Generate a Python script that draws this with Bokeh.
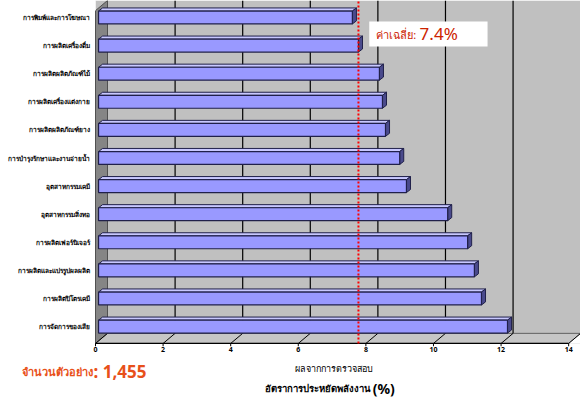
from bokeh.plotting import figure
from bokeh.models import Range1d
from bokeh.embed import file_html
from bokeh.resources import INLINE
from bokeh.core.properties import value

# ---- data ----
categories = [
    "การพิมพ์และการโฆษณา",
    "การผลิตเครื่องดื่ม",
    "การผลิตผลิตภัณฑ์ไม้",
    "การผลิตเครื่องแต่งกาย",
    "การผลิตผลิตภัณฑ์ยาง",
    "การบำรุงรักษาและงานจ่ายน้ำ",
    "อุตสาหกรรมเคมี",
    "อุตสาหกรรมสิ่งทอ",
    "การผลิตเฟอร์นิเจอร์",
    "การผลิตและแปรรูปผลผลิต",
    "การผลิตปิโตรเคมี",
    "การจัดการของเสีย",
]
rates = [7.51, 7.69, 8.31, 8.40, 8.49, 8.91, 9.11, 10.33, 10.92, 11.12, 11.33, 12.1]
average_text = "7.4%"
average_line = 7.78
sample_count = "1,455"
x_ticks = [0, 2, 4, 6, 8, 10, 12, 14]
x_tick_labels = ["0", "2", "4", "6", "8", "10", "12", "14"]
x_label = "ผลจากการตรวจสอบ"
x_title = "อัตราการประหยัดพลังงาน "

FONT = "Noto Sans"
n = len(categories)
ypos = [n - 1 - i for i in range(n)]

XMIN, XMAX = -2.811, 14.35
YMIN, YMAX = -2.594, 11.605

p = figure(width=580, height=399, output_backend="svg", toolbar_location=None,
           x_range=Range1d(XMIN, XMAX), y_range=Range1d(YMIN, YMAX),
           min_border=0)
p.outline_line_color = None
p.background_fill_color = "white"
p.border_fill_color = "white"
p.grid.visible = False
p.axis.visible = False

D = 0.355   # depth in x units
DY = 0.36   # depth in y units
FLOOR = -0.6

# back wall
p.patch([0, XMAX, XMAX, 0], [FLOOR, FLOOR, YMAX, YMAX], fill_color="#c0c0c0",
        line_color=None)
# side wall
p.patch([0, D, D, 0], [FLOOR, FLOOR + DY, YMAX, YMAX - DY], fill_color="#858585",
        line_color="#505050", line_width=1)
p.patch([0, XMIN, XMIN, 0], [YMAX - DY, YMAX - DY, YMAX, YMAX], fill_color="white",
        line_color=None)
# floor
p.patch([0, 14, 14 + D, D], [FLOOR, FLOOR, FLOOR + DY, FLOOR + DY],
        fill_color="#c6c6c6", line_color="#606060", line_width=1)
p.patch([14, XMAX, XMAX], [FLOOR, FLOOR, FLOOR + DY * (XMAX - 14) / D],
        fill_color="white", line_color=None)
p.segment(0, FLOOR, 14, FLOOR, line_color="black", line_width=1.2)
# back-wall grid lines, floor diagonals and ticks
p.segment(x0=[t + D for t in x_ticks[1:]], y0=FLOOR + DY,
          x1=[t + D for t in x_ticks[1:]], y1=YMAX, line_color="black", line_width=1.2)
p.segment(x0=x_ticks, y0=FLOOR, x1=[t + D for t in x_ticks], y1=FLOOR + DY,
          line_color="black", line_width=1)
p.segment(x0=x_ticks, y0=FLOOR, x1=x_ticks, y1=FLOOR - 0.1, line_color="black",
          line_width=1)

# bars (3D)
H = 0.46
OFF = 0.09
dx, dy = 0.12, 0.11
for v, y in zip(rates, ypos):
    top = y + H / 2
    bot = y - H / 2
    p.patch([OFF, OFF + dx, v + OFF + dx, v + OFF], [top, top + dy, top + dy, top],
            fill_color="#c8c8ff", line_color="#20204a", line_width=1)
    p.patch([v + OFF, v + OFF + dx, v + OFF + dx, v + OFF],
            [bot, bot + dy, top + dy, top],
            fill_color="#4a4a8c", line_color="#20204a", line_width=1)
p.hbar(y=ypos, left=OFF, right=[v + OFF for v in rates], height=H,
       fill_color="#9999ff", line_color="#20204a", line_width=1.2)

# average line
p.segment(average_line, FLOOR, average_line, YMAX, line_color="red",
          line_width=2, line_dash="2 2")

# average box
p.quad(left=8.1, right=11.6, bottom=9.97, top=10.86, fill_color="white",
       line_color=None)
p.text(x=[8.31], y=[10.4], text=["ค่าเฉลี่ย: "], text_color="#cc2200",
       text_font=value(FONT), text_font_size="11px", text_baseline="middle")
p.text(x=[9.59], y=[10.42], text=[average_text], text_color="#cc2200",
       text_font=value(FONT), text_font_size="17px", text_baseline="middle")

# category labels
p.text(x=[-0.15] * n, y=ypos, text=categories, text_align="right",
       text_baseline="middle", text_font=value(FONT), text_font_size="6.5px",
       text_font_style="bold", text_color="black")
# x tick labels
p.text(x=x_ticks, y=[-0.815] * len(x_ticks), text=x_tick_labels,
       text_align="center", text_baseline="middle", text_font=value(FONT),
       text_font_size="7px", text_font_style="bold", text_color="black")

# bottom texts
p.text(x=[7.05], y=[-1.49], text=[x_label], text_font=value(FONT),
       text_font_size="9px", text_align="center", text_baseline="middle",
       text_color="black")
p.text(x=[8.2], y=[-2.22], text=[x_title], text_font=value(FONT),
       text_font_size="9.5px", text_font_style="bold", text_align="right",
       text_baseline="middle", text_color="black")
p.text(x=[8.2], y=[-2.22], text=["(%)"], text_font=value(FONT),
       text_font_size="14px", text_font_style="bold", text_align="left",
       text_baseline="middle", text_color="black")
p.text(x=[-0.06], y=[-1.6], text=["จำนวนตัวอย่าง"], text_font=value(FONT),
       text_font_size="11px", text_font_style="bold", text_align="right",
       text_baseline="middle", text_color="#e8501a")
p.text(x=[-0.06], y=[-1.58], text=[": " + sample_count], text_font=value(FONT),
       text_font_size="17px", text_font_style="bold", text_align="left",
       text_baseline="middle", text_color="#e8501a")

open("out.html", "w").write(file_html(p, INLINE))
